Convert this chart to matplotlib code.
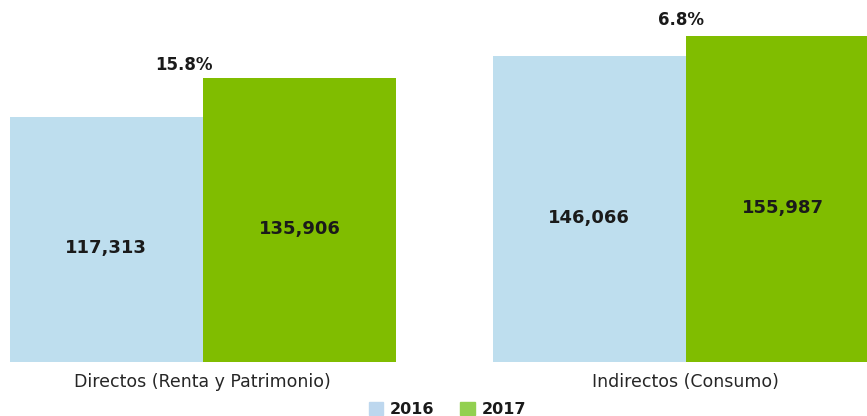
import matplotlib.pyplot as plt
from matplotlib.patches import Patch
import numpy as np

plt.rcParams['font.family'] = ['DejaVu Sans']

categories = ['Directos (Renta y Patrimonio)', 'Indirectos (Consumo)']
years = ['2016', '2017']
values_2016 = [117313, 146066]
values_2017 = [135906, 155987]
growth = ['15.8%', '6.8%']

bar_colors = ['#bedeee', '#80bd00']
legend_colors = ['#bdd7ee', '#92d050']

fig = plt.figure(figsize=(8.67, 4.16), dpi=100)
ax = fig.add_axes([0, 54 / 416, 1, 362 / 416])

x = np.arange(len(categories))
w = 0.4
b1 = ax.bar(x - w / 2, values_2016, w, color=bar_colors[0])
b2 = ax.bar(x + w / 2, values_2017, w, color=bar_colors[1])

for bars in (b1, b2):
    for rect in bars:
        v = rect.get_height()
        ax.annotate(f'{v:,.0f}', (rect.get_x() + rect.get_width() / 2, v / 2),
                    xytext=(0, -6.5), textcoords='offset points',
                    ha='center', va='center', fontsize=13, fontweight='bold',
                    color='#1a1a1a')

pct_dx = [-0.04, -0.01]
pct_dy = [9, 11.5]
for i, rect in enumerate(b2):
    ax.annotate(growth[i], (x[i] + pct_dx[i], rect.get_height()),
                xytext=(0, pct_dy[i]), textcoords='offset points',
                ha='center', va='center', fontsize=12, fontweight='bold',
                color='#1a1a1a')

ax.set_xlim(-0.42, 1.375)
ax.set_ylim(0, 173000)
ax.set_xticks(x)
ax.set_xticklabels(categories, fontsize=12.5, color='#262626')
ax.tick_params(axis='x', length=0, pad=8)
ax.set_yticks([])
for s in ax.spines.values():
    s.set_visible(False)

handles = [Patch(color=c, label=y) for c, y in zip(legend_colors, years)]
leg = fig.legend(handles=handles, loc='center', bbox_to_anchor=(0.516, 0.015),
                 ncol=2, frameon=False, handlelength=0.9, handleheight=0.9,
                 columnspacing=1.6, handletextpad=0.45,
                 prop={'size': 11.5, 'weight': 'bold'})
for t in leg.get_texts():
    t.set_color('#1a1a1a')

fig.savefig('out.png', dpi=100)
